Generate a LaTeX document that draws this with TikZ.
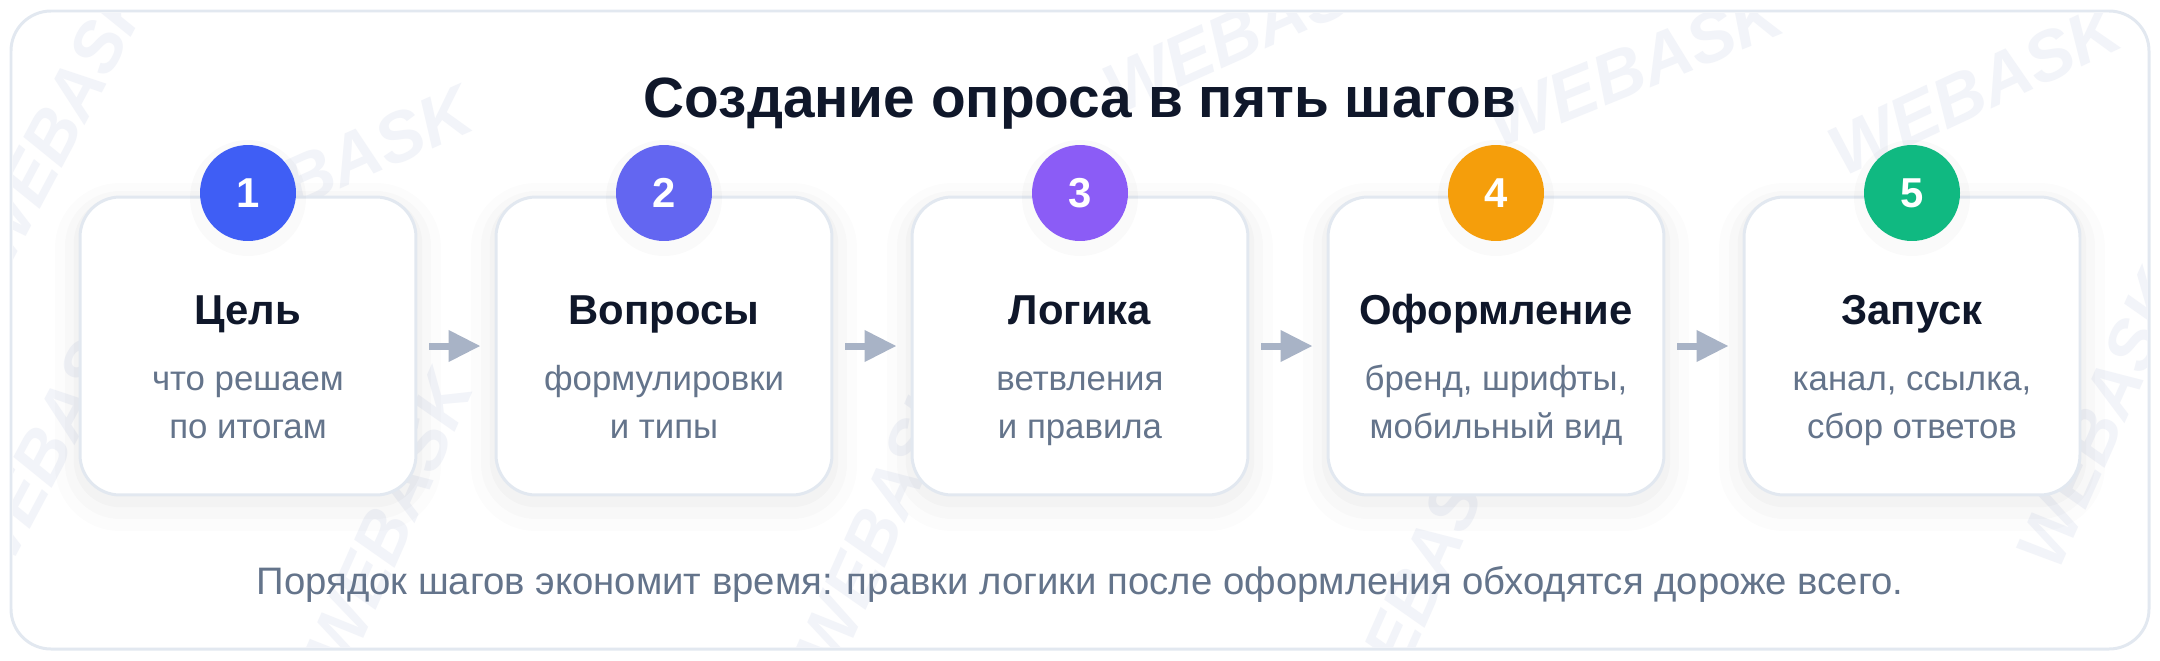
\documentclass[tikz,border=0pt]{standalone}
\usepackage{fontspec}
\setmainfont{Liberation Sans}
\usetikzlibrary{arrows.meta}
\definecolor{ink}{HTML}{0F172A}
\definecolor{muted}{HTML}{64748B}
\definecolor{rim}{HTML}{E2E8F0}
\definecolor{arrowgray}{HTML}{A8B3C6}
\definecolor{mark}{HTML}{F2F4F9}
\definecolor{blueone}{HTML}{3F5EF5}
\definecolor{indigotwo}{HTML}{6366F1}
\definecolor{violetthree}{HTML}{8B5CF6}
\definecolor{amberfour}{HTML}{F59E0B}
\definecolor{greenfive}{HTML}{10B981}
\begin{document}
\begin{tikzpicture}
[x=0.02cm, y=-0.02cm,
 card/.style={draw=rim, line width=1.7pt, fill=white, rounded corners=0.8cm,
   minimum width=6.72cm, minimum height=5.96cm, inner sep=0pt,
   preaction={draw=black, draw opacity=0.012, line width=1.0cm, transform canvas={yshift=-0.22cm}},
   preaction={draw=black, draw opacity=0.015, line width=0.6cm, transform canvas={yshift=-0.18cm}},
   preaction={draw=black, draw opacity=0.02, line width=0.25cm, transform canvas={yshift=-0.12cm}}},
 badge/.style={circle, minimum size=1.92cm, inner sep=0pt, text=white,
   font=\bfseries\fontsize{23.8}{24}\selectfont,
   preaction={draw=black, draw opacity=0.02, line width=0.4cm, transform canvas={yshift=-0.1cm}}},
 head/.style={anchor=base, text=ink, font=\bfseries\fontsize{23.8}{24}\selectfont},
 note/.style={anchor=base, text=muted, align=center, font=\fontsize{19.8}{27.2}\selectfont},
 flow/.style={draw=arrowgray, line width=0.14cm, shorten <=0.24cm, shorten >=0.28cm,
   -{Triangle[length=0.64cm, width=0.6cm]}},
 wm/.style={text=mark, font=\bfseries\itshape\fontsize{40}{40}\selectfont}]
\useasboundingbox (0,0) rectangle (2160,660);
\draw [rim, line width=1.7pt, fill=white, rounded corners=0.8cm] (11,11) rectangle (2149,649);
% faint watermarks
\begin{scope}
\clip [rounded corners=0.8cm] (13,13) rectangle (2147,647);
\path (60,120) node (w1) [wm, rotate=62] {WEBASK}
(325,170) node (w2) [wm, rotate=24] {WEBASK}
(1635,68) node (w3) [wm, rotate=22] {WEBASK}
(1975,90) node (w4) [wm, rotate=25] {WEBASK}
(1250,30) node (w5) [wm, rotate=24] {WEBASK}
(50,440) node (w6) [wm, rotate=62] {WEBASK}
(390,520) node (w7) [wm, rotate=66] {WEBASK}
(880,520) node (w8) [wm, rotate=66] {WEBASK}
(1420,580) node (w9) [wm, rotate=66] {WEBASK}
(2100,420) node (w10) [wm, rotate=66] {WEBASK};
\end{scope}
\path (1080,117) node (title) [anchor=base, text=ink, font=\bfseries\fontsize{32.3}{34}\selectfont] {Создание опроса в пять шагов};
% steps
\path ( 248,346) node (goal) [card] {}
( 664,346) node (questions) [card] {}
(1080,346) node (logic) [card] {}
(1496,346) node (design) [card] {}
(1912,346) node (launch) [card] {};
\path ( 248,193) node (b1) [badge, fill=blueone] {1}
( 664,193) node (b2) [badge, fill=indigotwo] {2}
(1080,193) node (b3) [badge, fill=violetthree] {3}
(1496,193) node (b4) [badge, fill=amberfour] {4}
(1912,193) node (b5) [badge, fill=greenfive] {5};
\path ( 248,324) node (h1) [head] {Цель}
( 664,324) node (h2) [head] {Вопросы}
(1080,324) node (h3) [head] {Логика}
(1496,324) node (h4) [head] {Оформление}
(1912,324) node (h5) [head] {Запуск};
\path ( 248,438) node (n1) [note] {что решаем\\по итогам}
( 664,438) node (n2) [note] {формулировки\\и типы}
(1080,438) node (n3) [note] {ветвления\\и правила}
(1496,438) node (n4) [note] {бренд, шрифты,\\мобильный вид}
(1912,438) node (n5) [note] {канал, ссылка,\\сбор ответов};
\draw [flow] (goal) -- (questions);
\draw [flow] (questions) -- (logic);
\draw [flow] (logic) -- (design);
\draw [flow] (design) -- (launch);
\path (1080,594) node (footer) [anchor=base, text=muted, font=\fontsize{21.8}{24}\selectfont] {Порядок шагов экономит время: правки логики после оформления обходятся дороже всего.};
\end{tikzpicture}
\end{document}
